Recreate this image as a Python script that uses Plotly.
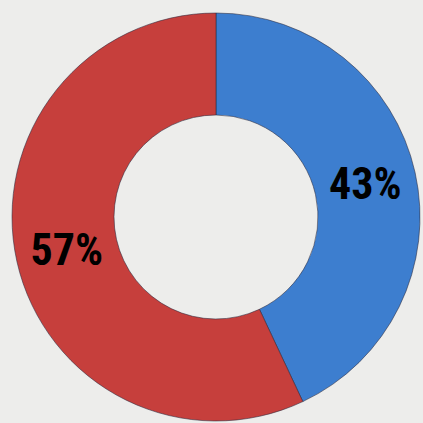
import plotly.graph_objects as go

labels = ["A", "B"]
values = [43, 57]
text_labels = ["43%", "57%"]
colors = ["#3D7ECF", "#C63F3C"]

fig = go.Figure(go.Pie(
    labels=labels,
    values=values,
    text=text_labels,
    textinfo="text",
    textposition="inside",
    insidetextorientation="horizontal",
    hole=0.5,
    sort=False,
    direction="clockwise",
    rotation=0,
    marker=dict(colors=colors, line=dict(color="rgba(40,40,60,0.55)", width=1)),
    textfont=dict(family="Roboto Condensed, Open Sans Condensed, sans-serif",
                  size=44, color="#000000", weight="bold"),
    showlegend=False,
    hoverinfo="none",
))

fig.update_layout(
    width=423, height=423,
    margin=dict(l=11, r=2, t=13, b=2),
    paper_bgcolor="#EDEDEB",
    plot_bgcolor="#EDEDEB",
)

fig.write_html("out.html", config={"displayModeBar": False},
               post_script="document.body.style.margin='0';document.body.style.overflow='hidden';")
